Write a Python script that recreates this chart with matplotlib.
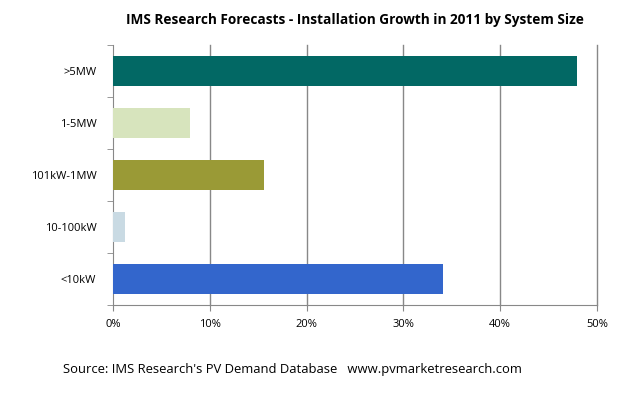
import matplotlib
matplotlib.use("Agg")
import matplotlib.pyplot as plt
from matplotlib.ticker import FixedLocator

categories = [">5MW", "1-5MW", "101kW-1MW", "10-100kW", "<10kW"]
values = [47.9, 8.0, 15.6, 1.2, 34.1]
colors = ["#026864", "#D7E4BD", "#9A9A36", "#C9DAE3", "#3366CC"]
xticks = [0, 10, 20, 30, 40, 50]
xtick_labels = ["0%", "10%", "20%", "30%", "40%", "50%"]

plt.rcParams['font.family'] = ['Open Sans', 'DejaVu Sans']

fig = plt.figure(figsize=(6.23, 3.97), dpi=100)
ax = fig.add_axes([113/623, 1-305/397, (597-113)/623, (305-45)/397])

n = len(categories)
ypos = list(range(n))
ax.barh(ypos, values, height=0.58, color=colors, zorder=3)
ax.set_ylim(n - 0.5, -0.5)
ax.set_xlim(0, 50)
ax.set_xticks(xticks)
ax.set_xticklabels(xtick_labels, fontsize=8)
ax.set_yticks(ypos)
ax.set_yticklabels(categories, fontsize=8)
ax.tick_params(axis='y', length=0, pad=12)
ax.yaxis.set_minor_locator(FixedLocator([i - 0.5 for i in range(n + 1)]))
ax.tick_params(axis='y', which='minor', length=4, color='#888888')
ax.tick_params(axis='x', length=4, color='#888888', pad=6)
for xt in xticks[1:]:
    ax.axvline(xt, color='#888888', linewidth=1, zorder=0, clip_on=False)
for s in ['top', 'right']:
    ax.spines[s].set_visible(False)
for s in ['left', 'bottom']:
    ax.spines[s].set_color('#888888')

fig.text(0.569, 1-20/397, "IMS Research Forecasts - Installation Growth in 2011 by System Size",
         ha='center', va='center', fontsize=9.8, fontweight='bold')
fig.text(63/623, 1-370/397, "Source: IMS Research's PV Demand Database   www.pvmarketresearch.com",
         ha='left', va='center', fontsize=9.4)

fig.savefig("out.png", dpi=100, facecolor='white')
